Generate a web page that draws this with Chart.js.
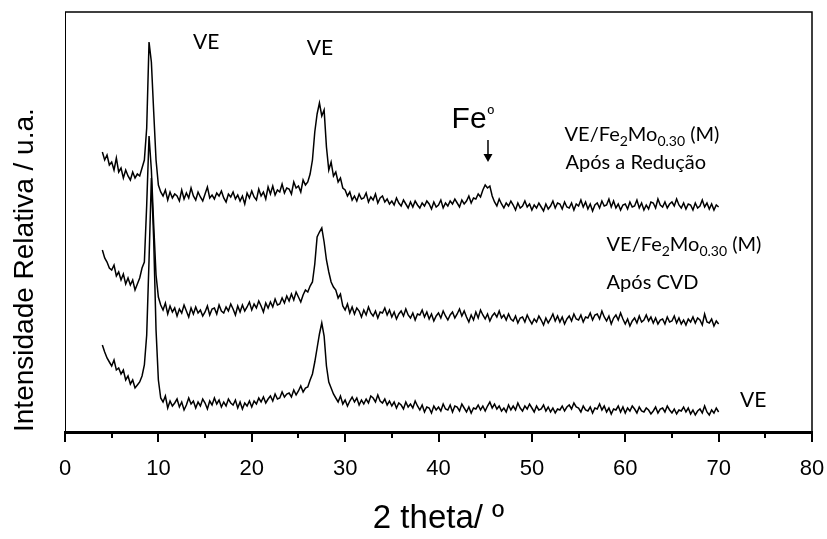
<!DOCTYPE html>
<html>
<head>
<meta charset="utf-8">
<script src="https://cdn.jsdelivr.net/npm/chart.js@4.4.1/dist/chart.umd.min.js"></script>
<style>
  html, body { margin: 0; padding: 0; background: #fff; }
  #wrap { width: 827px; height: 539px; }
</style>
</head>
<body>
<div id="wrap"><canvas id="xrd"></canvas></div>
<script>
// 2θ grid shared by the three patterns: 4° to 70° every 0.25°
const startAngle = 4;
const stepAngle = 0.25;

// VE/Fe2Mo0.30 (M) after reduction (upper trace)
const reducao = [
  280,272,277,267, 270,262,274,260, 264,254,262,256, 252,260,254,258,
  256,264,272,304, 390,370,320,272, 247,240,236,242, 232,240,234,238,
  236,231,242,233, 239,234,244,236, 232,240,235,231, 238,245,234,237,
  233,239,236,241, 234,230,238,235, 240,233,237,231, 236,228,239,234,
  241,235,232,243, 236,240,233,245, 238,246,237,242, 240,248,239,244,
  243,238,250,244, 246,240,252,247, 250,258,272,300, 318,329,316,322,
  285,262,270,256, 260,250,254,244, 242,236,240,232, 236,231,238,233,
  234,239,230,235, 232,238,229,234, 236,230,233,228, 231,227,234,229,
  226,232,228,224, 230,225,231,227, 224,229,226,231, 228,223,230,225,
  227,232,224,229, 226,231,228,233, 229,225,232,228, 231,236,229,234,
  233,238,235,242, 247,244,246,236, 230,226,233,228, 224,229,226,231,
  227,222,229,224, 226,231,225,228, 222,227,224,229, 225,221,228,223,
  226,231,224,229, 228,223,230,225, 224,229,222,228, 226,232,225,230,
  223,228,221,227, 229,224,231,226, 227,233,225,231, 224,228,222,227,
  228,223,230,225, 226,232,224,229, 222,227,223,230, 229,224,233,227,
  225,230,224,228, 230,226,233,227, 224,229,223,228, 227,222,229,224,
  226,232,225,229, 223,228,222,227, 225
];

// VE/Fe2Mo0.30 (M) after CVD (middle trace)
const cvd = [
  182,174,170,164, 162,167,156,160, 152,158,148,154, 147,152,142,148,
  154,164,170,227, 296,262,207,157, 135,127,122,129, 118,126,120,124,
  116,123,119,127, 121,115,124,118, 125,119,122,116, 120,126,117,123,
  124,118,127,121, 119,125,121,128, 123,117,126,120, 127,121,125,130,
  122,128,124,131, 126,120,129,124, 130,125,133,127, 128,134,129,136,
  131,138,132,140, 135,130,137,142, 140,146,150,168, 195,200,204,190,
  172,160,150,145, 142,134,138,126, 122,128,119,125, 118,124,121,115,
  122,117,125,119, 116,121,114,120, 119,124,117,122, 115,120,113,118,
  121,116,123,117, 114,119,112,118, 117,122,115,120, 113,118,111,116,
  119,114,121,116, 112,117,120,114, 118,123,116,121, 115,110,117,112,
  120,114,122,117, 113,118,111,116, 119,115,121,114, 117,112,118,113,
  111,116,109,114, 115,110,117,112, 108,113,110,116, 112,107,114,109,
  113,118,111,116, 110,115,108,113, 116,111,118,113, 112,117,110,115,
  114,119,112,117, 118,113,121,115, 111,116,108,114, 117,112,119,113,
  108,113,106,111, 114,109,116,110, 112,117,111,115, 109,114,108,112,
  113,108,115,110, 111,116,109,114, 108,112,107,113, 110,115,109,114,
  112,107,118,110, 109,113,106,111, 108
];

// VE support alone (lower trace)
const ve = [
  87,80,74,70, 66,72,62,64, 58,62,52,56, 48,52,44,47,
  50,56,67,97, 172,254,192,102, 52,34,30,36, 24,31,26,29,
  33,25,30,22, 27,34,28,31, 24,30,26,33, 29,23,31,27,
  34,28,32,25, 30,26,33,29, 27,32,24,30, 23,29,26,31,
  25,31,28,34, 30,35,29,33, 36,31,38,33, 34,40,35,38,
  39,35,42,37, 41,46,40,44, 45,52,58,70, 84,98,109,96,
  66,50,44,38, 34,30,36,28, 32,26,31,35, 30,34,27,32,
  28,33,29,36, 34,30,37,31, 29,33,27,31, 26,30,24,29,
  27,23,30,25, 28,24,31,26, 22,27,20,25, 24,19,26,22,
  25,21,28,23, 22,27,20,26, 25,21,28,24, 20,25,19,24,
  23,27,22,26, 21,26,30,24, 28,23,26,21, 24,20,27,22,
  26,22,29,24, 21,26,23,28, 24,20,26,22, 23,27,21,25,
  20,24,19,23, 22,26,21,25, 27,23,29,25, 24,20,26,22,
  21,25,19,24, 23,28,22,26, 20,24,18,23, 22,26,20,25,
  19,24,21,26, 23,19,25,21, 20,24,22,18, 21,25,19,23,
  24,20,26,22, 19,23,18,22, 21,25,20,24, 18,22,17,21,
  23,19,26,20, 17,22,19,24, 20
];

const xTicks = [0, 10, 20, 30, 40, 50, 60, 70, 80];

const twoTheta = reducao.map((_, i) => startAngle + i * stepAngle);
const toPoints = ys => ys.map((y, i) => ({ x: twoTheta[i], y: y }));

// text placed over the plot, in axis units
const notes = [
  { parts: [['VE']], x: 13.7, y: 390, font: 'Lato', size: 21 },
  { parts: [['VE']], x: 25.9, y: 384, font: 'Lato', size: 21 },
  { parts: [['Fe'], ['º']], x: 41.4, y: 312, font: 'Liberation Sans', size: 30 },
  { parts: [['VE/Fe'], ['2', 'sub'], ['Mo'], ['0.30', 'sub'], [' (M)']], x: 53.5, y: 297, font: 'Lato', size: 20 },
  { parts: [['Após a Redução']], x: 53.6, y: 269, font: 'Lato', size: 20 },
  { parts: [['VE/Fe'], ['2', 'sub'], ['Mo'], ['0.30', 'sub'], [' (M)']], x: 58.0, y: 187, font: 'Lato', size: 20 },
  { parts: [['Após CVD']], x: 58.0, y: 149, font: 'Lato', size: 20 },
  { parts: [['VE']], x: 72.3, y: 32, font: 'Lato', size: 21 }
];
const arrowAt = { x: 45.3, yFrom: 292, yTo: 270 };

const decorations = {
  id: 'decorations',
  afterDraw(chart) {
    const { ctx, chartArea: a, scales: { x, y } } = chart;
    ctx.save();
    ctx.strokeStyle = '#000';
    ctx.fillStyle = '#000';

    // frame on top and right
    ctx.lineWidth = 1.5;
    ctx.beginPath();
    ctx.moveTo(a.left, a.top);
    ctx.lineTo(a.right, a.top);
    ctx.lineTo(a.right, a.bottom);
    ctx.stroke();

    // major and minor tick marks under the 2θ axis
    ctx.lineWidth = 2;
    for (let v = 0; v <= 80; v += 5) {
      const px = Math.round(x.getPixelForValue(v));
      const len = v % 10 === 0 ? 10 : 6;
      ctx.beginPath();
      ctx.moveTo(px, a.bottom);
      ctx.lineTo(px, a.bottom + len);
      ctx.stroke();
    }

    // labels
    ctx.textBaseline = 'middle';
    ctx.textAlign = 'left';
    notes.forEach(n => {
      let px = x.getPixelForValue(n.x);
      const py = y.getPixelForValue(n.y);
      n.parts.forEach(([txt, kind]) => {
        const sub = kind === 'sub';
        const sz = sub ? Math.round(n.size * 0.68) : n.size;
        ctx.font = sz + 'px "' + n.font + '"';
        if (txt === 'º') {
          ctx.font = Math.round(n.size * 0.6) + 'px "' + n.font + '"';
          ctx.fillText(txt, px + 1, py - 5);
        } else {
          ctx.fillText(txt, px, sub ? py + 6 : py);
        }
        px += ctx.measureText(txt).width;
      });
    });

    // arrow pointing at the Fe peak
    const ax = x.getPixelForValue(arrowAt.x);
    const y0 = y.getPixelForValue(arrowAt.yFrom);
    const y1 = y.getPixelForValue(arrowAt.yTo);
    ctx.lineWidth = 1.5;
    ctx.beginPath();
    ctx.moveTo(ax, y0);
    ctx.lineTo(ax, y1 - 6);
    ctx.stroke();
    ctx.beginPath();
    ctx.moveTo(ax - 4.5, y1 - 8);
    ctx.lineTo(ax + 4.5, y1 - 8);
    ctx.lineTo(ax, y1);
    ctx.closePath();
    ctx.fill();
    ctx.restore();
  }
};

const lineSet = (label, ys) => ({
  label: label,
  data: toPoints(ys),
  borderColor: '#000',
  borderWidth: 1.5,
  pointRadius: 0,
  tension: 0,
  fill: false
});

new Chart(document.getElementById('xrd'), {
  type: 'line',
  data: {
    datasets: [
      lineSet('VE/Fe2Mo0.30 (M) Após a Redução', reducao),
      lineSet('VE/Fe2Mo0.30 (M) Após CVD', cvd),
      lineSet('VE', ve)
    ]
  },
  options: {
    responsive: true,
    maintainAspectRatio: false,
    animation: false,
    layout: { padding: { top: 12, right: 15, left: 0, bottom: 0 } },
    plugins: {
      legend: { display: false },
      tooltip: { enabled: false }
    },
    scales: {
      x: {
        type: 'linear',
        min: 0,
        max: 80,
        afterFit(scale) { scale.height = 107; },
        afterBuildTicks(scale) { scale.ticks = xTicks.map(v => ({ value: v })); },
        // invisible tick marks only push the labels down; visible ones are drawn by the plugin
        grid: { display: true, drawOnChartArea: false, drawTicks: true, tickLength: 24, color: 'rgba(0,0,0,0)' },
        border: { display: true, color: '#000', width: 3 },
        ticks: {
          color: '#000',
          padding: 0,
          maxRotation: 0,
          font: { family: '"Liberation Sans Narrow", "Liberation Sans", Arial', size: 22 }
        },
        title: {
          display: true,
          text: '2 theta/ º',
          color: '#000',
          padding: { top: 0, bottom: 0 },
          font: { family: '"Liberation Sans", Arial', size: 33, lineHeight: 1.2 }
        }
      },
      y: {
        min: 0,
        max: 420,
        afterFit(scale) { scale.width = 65; },
        grid: { display: false, drawTicks: false },
        border: { display: true, color: '#000', width: 1 },
        ticks: { display: false },
        title: {
          display: true,
          align: 'start',
          text: 'Intensidade Relativa / u.a.',
          color: '#000',
          padding: { top: 8, bottom: 0 },
          font: { family: '"Liberation Sans", Arial', size: 28, lineHeight: 1.2 }
        }
      }
    }
  },
  plugins: [decorations]
});
</script>
</body>
</html>
